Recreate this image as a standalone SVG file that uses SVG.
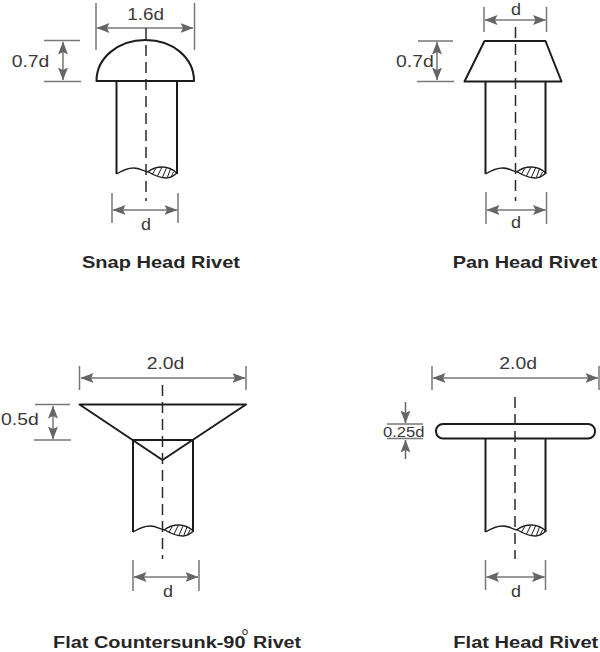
<svg xmlns="http://www.w3.org/2000/svg" xmlns:xlink="http://www.w3.org/1999/xlink" width="600" height="652" viewBox="0 0 600 652">
<style>
text{font-family:"Liberation Sans",Arial,sans-serif;fill:#3a3a3a;font-size:17px}
.t{font-weight:bold;font-size:17px;fill:#262626}
.o{fill:none;stroke:#1c1c1c;stroke-width:2;stroke-linejoin:round}
.w{fill:#fff;stroke:#1c1c1c;stroke-width:2;stroke-linejoin:round}
.c{fill:none;stroke:#2a2a2a;stroke-width:1.500;stroke-dasharray:11 6}
.e{fill:none;stroke:#777;stroke-width:1.500}
.a{fill:none;stroke:#777;stroke-width:1.500;marker-start:url(#h);marker-end:url(#h)}
.a1{fill:none;stroke:#666;stroke-width:1.500;marker-end:url(#h)}
.b{fill:none;stroke:#1c1c1c;stroke-width:1.400}
.h{fill:none;stroke:#1c1c1c;stroke-width:1}
.s{font-size:16px}
</style>
<defs>
<marker id="h" viewBox="0 0 13 10" refX="12.500" refY="5" markerWidth="13" markerHeight="10" markerUnits="userSpaceOnUse" orient="auto-start-reverse"><path d="M0,0L13,5L0,10L2.500,5Z" fill="#666"/></marker>
<g id="brk">
<path class="b" d="M0,174C5,171 10,168 17,168C24,168 26,171 32,172C37,175 43,178 50,178C54,178 57,176 60.500,173"/>
<path class="b" d="M31,172C36,168 42,167 46,167C52,167 57,170 60.500,173"/>
<path class="h" d="M36,174L39,169M41,176L45,168M46,177L50,168M51,177L54,169M55,176L57,172"/>
</g>
</defs>
<g id="connectors">
<path class="e" d="M96,3V50M194.500,3V50M44,40.500H80M44,81.500H81M112,193V223M178,193V223"/>
<path class="a" d="M97,28H193"/><path class="a" d="M63,42V80"/><path class="a" d="M113,210H177"/>
<path class="e" d="M484,7V32M546.500,7V32M418,41H453M417,81.500H454M486,192V224M546.500,192V224"/>
<path class="a" d="M485,20H545.500"/><path class="a" d="M437,42V80"/><path class="a" d="M487,210H545.500"/>
<path class="e" d="M79.500,366V390M246,366V390M35,404.500H70M34,440H71M133,560V591M199,560V591"/>
<path class="a" d="M81,378H245"/><path class="a" d="M53,406V439"/><path class="a" d="M134,577H198"/>
<path class="e" d="M432,366V390M599,366V390M387,424H423M387,438.500H423M485.500,560V590M545.500,560V590"/>
<path class="a" d="M433,378H598"/><path class="a" d="M486.500,577H544.500"/>
<path class="a1" d="M405.500,402V423"/><path class="a1" d="M405.500,459V440"/>
</g>
<g id="snap-head-rivet">
<path class="o" d="M116.500,81V174M177,81V174"/>
<use xlink:href="#brk" href="#brk" transform="translate(116.500,0)"/>
<path class="w" d="M96.500,81C96.500,58 118,40 145.500,40C173,40 194,58 194,81Z"/>
<path class="c" d="M146,28V201"/>
<text x="127.300" y="20" textLength="36.700" lengthAdjust="spacingAndGlyphs">1.6d</text>
<text x="11.700" y="67" textLength="37.700" lengthAdjust="spacingAndGlyphs">0.7d</text>
<text x="141" y="230" textLength="10" lengthAdjust="spacingAndGlyphs">d</text>
<text class="t" x="82" y="268" textLength="158" lengthAdjust="spacingAndGlyphs">Snap Head Rivet</text>
</g>
<g id="pan-head-rivet">
<path class="o" d="M485.500,81V174M545.500,81V174"/>
<use xlink:href="#brk" href="#brk" transform="translate(485.500,0)"/>
<path class="w" d="M484.500,41H545.500L561.500,81.500H464.500Z"/>
<path class="c" d="M515.500,27V201"/>
<text class="s" x="511" y="14.500" textLength="10" lengthAdjust="spacingAndGlyphs">d</text>
<text x="396" y="67" textLength="37.700" lengthAdjust="spacingAndGlyphs">0.7d</text>
<text x="511" y="228" textLength="10" lengthAdjust="spacingAndGlyphs">d</text>
<text class="t" x="452.700" y="268" textLength="144.700" lengthAdjust="spacingAndGlyphs">Pan Head Rivet</text>
</g>
<g id="flat-countersunk-rivet">
<path class="o" d="M133,440V532M193,440V532"/>
<use xlink:href="#brk" href="#brk" transform="translate(133,358)"/>
<path class="w" d="M79.500,404.500H246L162.500,460ZM133,440H193"/>
<path class="c" d="M162.500,385V559"/>
<text x="146.700" y="369" textLength="37.700" lengthAdjust="spacingAndGlyphs">2.0d</text>
<text x="1" y="425" textLength="37.700" lengthAdjust="spacingAndGlyphs">0.5d</text>
<text x="163" y="597" textLength="10" lengthAdjust="spacingAndGlyphs">d</text>
<text class="t s" x="53" y="648" textLength="192.500" lengthAdjust="spacingAndGlyphs" style="font-size:16px">Flat Countersunk-90</text>
<text x="241" y="644" style="font-size:20px">°</text>
<text class="t s" x="253" y="648" textLength="48" lengthAdjust="spacingAndGlyphs" style="font-size:16px">Rivet</text>
</g>
<g id="flat-head-rivet">
<path class="o" d="M485.500,439V532M545.500,439V532"/>
<use xlink:href="#brk" href="#brk" transform="translate(485.500,358)"/>
<rect class="w" x="436" y="424" width="159" height="14.500" rx="7"/>
<path class="c" d="M515,397V559"/>
<text x="499.300" y="369" textLength="37.700" lengthAdjust="spacingAndGlyphs">2.0d</text>
<text x="383" y="437" textLength="41.500" lengthAdjust="spacingAndGlyphs" style="font-size:15px">0.25d</text>
<text x="511" y="597" textLength="10" lengthAdjust="spacingAndGlyphs">d</text>
<text class="t s" x="453.300" y="648" textLength="145" lengthAdjust="spacingAndGlyphs" style="font-size:16px">Flat Head Rivet</text>
</g>
</svg>
